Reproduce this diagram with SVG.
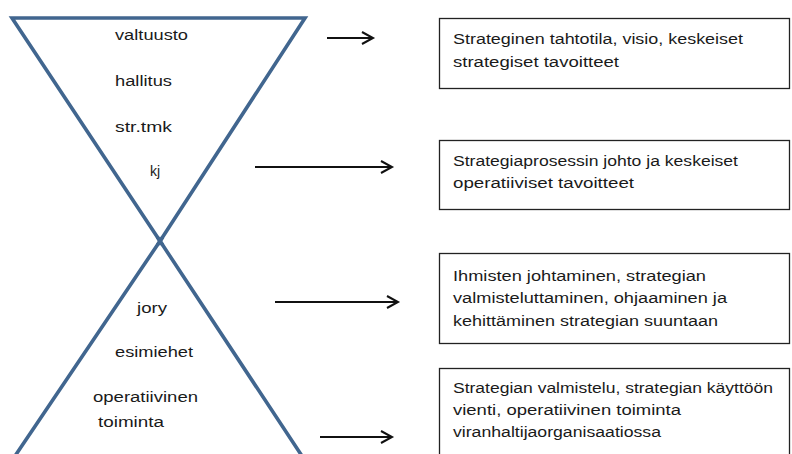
<svg xmlns="http://www.w3.org/2000/svg" width="792" height="454" viewBox="0 0 792 454">
<style>
.tri{fill:none;stroke:#41668f;stroke-width:3.6;stroke-linejoin:miter}
.lbl{font-family:"Liberation Sans",Arial,sans-serif;font-size:14px;fill:#1a1a1a}
.box{fill:#fff;stroke:#222;stroke-width:1.3}
.arr{stroke:#111;stroke-width:2;fill:none;marker-end:url(#ah)}
</style>
<defs>
<marker id="ah" markerUnits="userSpaceOnUse" markerWidth="16" markerHeight="16" refX="12" refY="7" orient="auto">
<path d="M1,1 L12,7 L1,13" fill="none" stroke="#111" stroke-width="2"/>
</marker>
</defs>
<rect width="792" height="454" fill="#fff"/>
<g id="top-triangle">
<path class="tri" d="M162.8,245.2 L12,18 L305,18 L157.3,245.2"/>
<text class="lbl" x="115" y="40" textLength="73" lengthAdjust="spacingAndGlyphs">valtuusto</text>
<text class="lbl" x="115" y="86" textLength="57" lengthAdjust="spacingAndGlyphs">hallitus</text>
<text class="lbl" x="115" y="132" textLength="57" lengthAdjust="spacingAndGlyphs">str.tmk</text>
<text class="lbl" x="150" y="176">kj</text>
</g>
<g id="bottom-triangle">
<path class="tri" d="M162.8,236.9 L15,456 M157.2,236.8 L302,456"/>
<text class="lbl" x="137" y="313" textLength="30" lengthAdjust="spacingAndGlyphs">jory</text>
<text class="lbl" x="115" y="357" textLength="78" lengthAdjust="spacingAndGlyphs">esimiehet</text>
<text class="lbl" x="93" y="402" textLength="105" lengthAdjust="spacingAndGlyphs">operatiivinen</text>
<text class="lbl" x="98" y="427" textLength="66" lengthAdjust="spacingAndGlyphs">toiminta</text>
</g>
<g id="connectors">
<line class="arr" x1="327" y1="38" x2="373" y2="38"/>
<line class="arr" x1="255" y1="167" x2="392" y2="167"/>
<line class="arr" x1="275" y1="302" x2="398" y2="302"/>
<line class="arr" x1="320" y1="437" x2="392" y2="437"/>
</g>
<g id="box1">
<rect class="box" x="439.5" y="18.5" width="350" height="70"/>
<text class="lbl" x="453" y="44" textLength="290" lengthAdjust="spacingAndGlyphs">Strateginen tahtotila, visio, keskeiset</text>
<text class="lbl" x="453" y="67" textLength="166" lengthAdjust="spacingAndGlyphs">strategiset tavoitteet</text>
</g>
<g id="box2">
<rect class="box" x="439.5" y="140.5" width="350" height="69"/>
<text class="lbl" x="453" y="166" textLength="285" lengthAdjust="spacingAndGlyphs">Strategiaprosessin johto ja keskeiset</text>
<text class="lbl" x="453" y="188" textLength="181" lengthAdjust="spacingAndGlyphs">operatiiviset tavoitteet</text>
</g>
<g id="box3">
<rect class="box" x="439.5" y="253.5" width="350" height="90"/>
<text class="lbl" x="453" y="281" textLength="253" lengthAdjust="spacingAndGlyphs">Ihmisten johtaminen, strategian</text>
<text class="lbl" x="453" y="303" textLength="274" lengthAdjust="spacingAndGlyphs">valmisteluttaminen, ohjaaminen ja</text>
<text class="lbl" x="453" y="326" textLength="265" lengthAdjust="spacingAndGlyphs">kehittäminen strategian suuntaan</text>
</g>
<g id="box4">
<rect class="box" x="439.5" y="368.5" width="350" height="100"/>
<text class="lbl" x="453" y="393" textLength="320" lengthAdjust="spacingAndGlyphs">Strategian valmistelu, strategian käyttöön</text>
<text class="lbl" x="453" y="415" textLength="228" lengthAdjust="spacingAndGlyphs">vienti, operatiivinen toiminta</text>
<text class="lbl" x="453" y="437" textLength="208" lengthAdjust="spacingAndGlyphs">viranhaltijaorganisaatiossa</text>
</g>
</svg>
